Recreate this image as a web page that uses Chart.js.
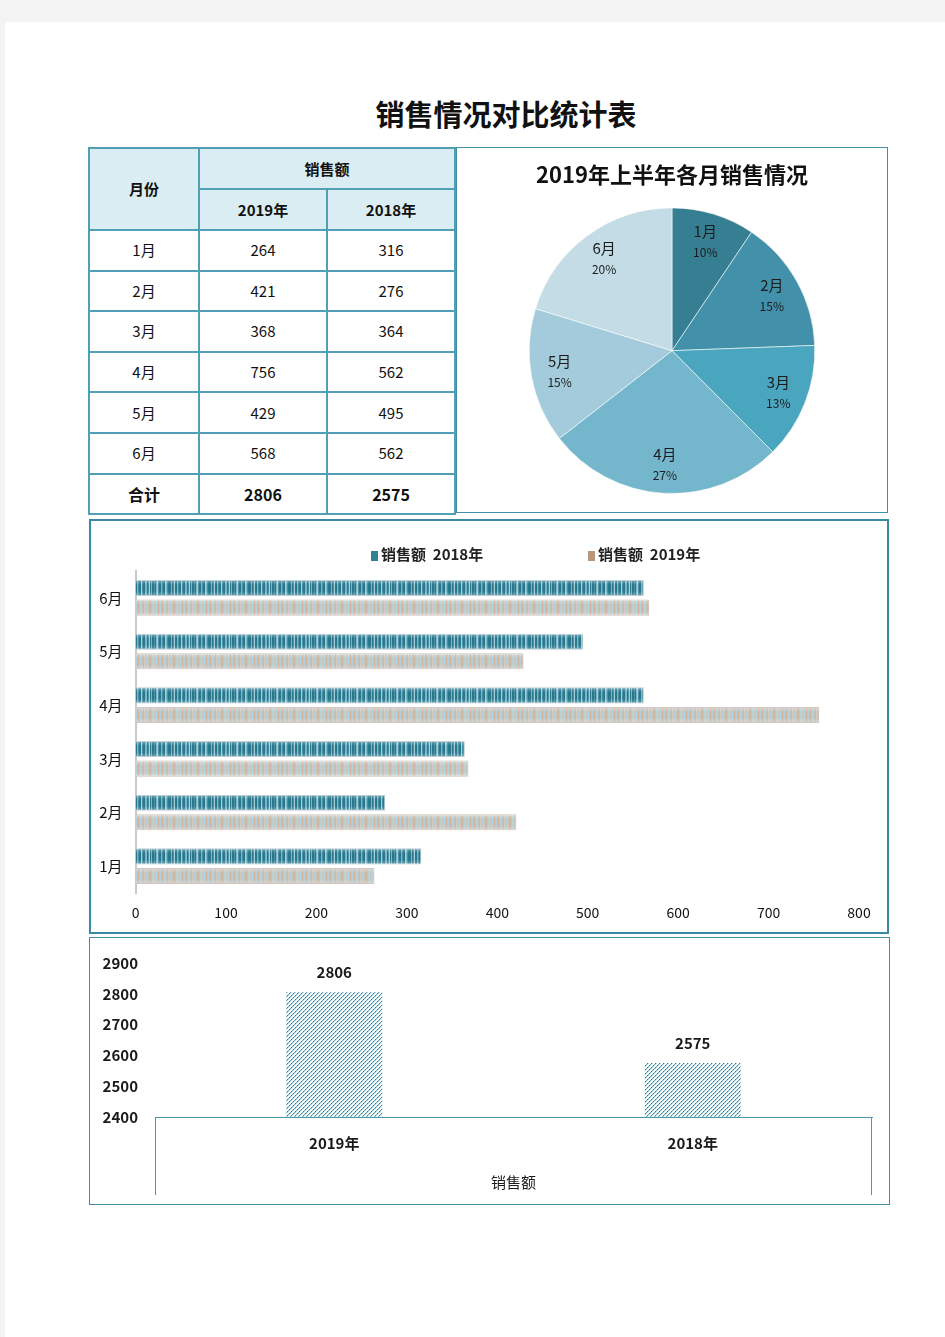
<!DOCTYPE html>
<html><head><meta charset="utf-8">
<script src="https://cdn.jsdelivr.net/npm/chart.js@4.4.1/dist/chart.umd.min.js"></script>
<style>
html,body{margin:0;padding:0;background:#f3f3f3;width:945px;height:1337px;overflow:hidden;font-family:'Noto Sans CJK SC','Noto Sans',sans-serif;color:#111;}
#page{position:absolute;left:5px;top:22px;width:940px;height:1315px;background:#fff;}
#title{position:absolute;left:306px;width:400px;top:93px;text-align:center;font-size:29px;font-weight:700;line-height:40px;color:#111;}
#tbl{position:absolute;left:88px;top:147px;width:366px;border-collapse:collapse;table-layout:fixed;border:2px solid #2f8197;}
#tbl td{border:2px solid #519fb4;text-align:center;vertical-align:middle;font-size:15px;padding:0;height:38.6px;line-height:18px;}
#tbl tr.h td{background:#daedf3;font-weight:700;height:39px;}
#tbl tr.t td{font-weight:700;font-size:16px;}
.box{position:absolute;box-sizing:border-box;border:1px solid #3f8fa6;}
canvas.c{position:absolute;}
.leg{position:absolute;font-size:15px;font-weight:700;line-height:18px;white-space:nowrap;color:#222;}
.sq{display:inline-block;width:7px;height:10px;margin-right:3px;vertical-align:-1px;}
</style></head>
<body>
<div id="page"></div>
<div id="title">销售情况对比统计表</div>
<table id="tbl"><colgroup><col style="width:110px"><col style="width:128px"><col style="width:128px"></colgroup><tbody id="tb"></tbody></table>

<div class="box" style="left:456px;top:147px;width:432px;height:366px;"></div>
<canvas class="c" id="pie" width="432" height="365" style="left:456px;top:147px;"></canvas>

<div class="box" style="left:89px;top:519px;width:800px;height:415px;border:2px solid #3a8aa1;"></div>
<canvas class="c" id="hbar" width="800" height="414" style="left:89px;top:519px;"></canvas>
<div class="leg" style="left:371px;top:545px;"><span class="sq" style="background:#2f7f95"></span>销售额&nbsp;&nbsp;2018年</div>
<div class="leg" style="left:588px;top:545px;"><span class="sq" style="background:#b9957a"></span>销售额&nbsp;&nbsp;2019年</div>

<div class="box" style="left:89px;top:937px;width:801px;height:268px;border:1.5px solid #3f8fa6;"></div>
<canvas class="c" id="tot" width="800" height="267" style="left:89px;top:937px;"></canvas>

<script>
// ---- data ----
const months = ['1月','2月','3月','4月','5月','6月'];
const sales2019 = [264, 421, 368, 756, 429, 568];
const sales2018 = [316, 276, 364, 562, 495, 562];
const totalLabels = ['2019年','2018年'];
const totals = [2806, 2575];
const pieShareLabels = ['10%','15%','13%','27%','15%','20%'];
const seriesNames = ['销售额  2018年','销售额  2019年'];

// ---- table ----
let html = '<tr class="h"><td rowspan="2">月份</td><td colspan="2">销售额</td></tr><tr class="h"><td>' + totalLabels[0] + '</td><td>' + totalLabels[1] + '</td></tr>';
months.forEach((m,i)=>{ html += '<tr><td>'+m+'</td><td>'+sales2019[i]+'</td><td>'+sales2018[i]+'</td></tr>'; });
html += '<tr class="t"><td>合计</td><td>'+totals[0]+'</td><td>'+totals[1]+'</td></tr>';
document.getElementById('tb').innerHTML = html;

Chart.defaults.font.family = "'Noto Sans CJK SC','Noto Sans',sans-serif";

// ---- styles: patterns ----
function stripePattern(cols){
  const c=document.createElement('canvas'); c.width=cols.length; c.height=2;
  const g=c.getContext('2d');
  cols.forEach((col,i)=>{g.fillStyle=col;g.fillRect(i,0,1,2);});
  return g.createPattern(c,'repeat');
}
const D='#27778d',M='#4b91a6',L='#80b4c4',P='#a9ccd7';
const tealPattern = stripePattern([D,D,L,D,M,P,D,D,L,M,D,D,P,M,D,D,L,L,D,M,P,D,L,D,D,M,D,L,P,M,D,D,L,M,D,D,P,L,M,D]);
const T='#d3b6a1',B='#b6d0d8',G='#c6c3bb',W='#d8cbbd';
const tanPattern = stripePattern([T,T,G,B,B,G,T,W,G,B,B,G,T,T,G,B,W,G,B,B,G,T,G,B]);
function hatchPattern(){
  const c=document.createElement('canvas'); c.width=8; c.height=8;
  const g=c.getContext('2d');
  g.fillStyle='#ffffff'; g.fillRect(0,0,8,8);
  for(let y=0;y<8;y++) for(let x=0;x<8;x++){
    const k=(x+y)%4;
    if(k===0){ g.fillStyle = (x%2===0)?'#2a8098':'#6fadc0'; g.fillRect(x,y,1,1); }
    else if(k===1){ g.fillStyle='#b9d9e3'; g.fillRect(x,y,1,1); }
  }
  return g.createPattern(c,'repeat');
}
const hatch = hatchPattern();

// ---- pie ----
const pieColors = ['#367e92','#4290aa','#4aa5bf','#74b7cc','#a3cbdb','#c3dce5'];
const pieLabelPlugin = {
  id:'pieLabels',
  afterDatasetsDraw(chart){
    const ctx=chart.ctx; const meta=chart.getDatasetMeta(0);
    ctx.save(); ctx.fillStyle='#1c1c1c'; ctx.textAlign='center'; ctx.textBaseline='middle';
    meta.data.forEach((arc,i)=>{
      const p=arc.getProps(['x','y','startAngle','endAngle','outerRadius'],true);
      const a=(p.startAngle+p.endAngle)/2, r=p.outerRadius*0.8;
      const x=p.x+Math.cos(a)*r, y=p.y+Math.sin(a)*r;
      ctx.font="15px 'Noto Sans CJK SC'"; ctx.fillText(chart.data.labels[i], x, y-10);
      ctx.font="12px 'Noto Sans CJK SC'"; ctx.fillText(pieShareLabels[i], x, y+11);
    });
    ctx.restore();
  }
};
new Chart(document.getElementById('pie'), {
  type:'pie',
  data:{labels:months, datasets:[{data:sales2019, backgroundColor:pieColors, borderColor:'rgba(255,255,255,0.55)', borderWidth:1}]},
  options:{responsive:false, animation:false, devicePixelRatio:1,
    layout:{padding:{top:0,bottom:18,left:0,right:0}},
    plugins:{legend:{display:false}, tooltip:{enabled:false},
      title:{display:true, text:'2019年上半年各月销售情况', color:'#111', font:{size:22, weight:'bold'}, padding:{top:14,bottom:20}}}
  },
  plugins:[pieLabelPlugin]
});

// ---- horizontal bars ----
const shadePlugin = {
  id:'shade',
  afterDatasetsDraw(chart){
    const ctx=chart.ctx;
    ctx.save();
    chart.data.datasets.forEach((ds,di)=>{
      chart.getDatasetMeta(di).data.forEach(el=>{
        const p=el.getProps(['x','y','base','height'],true);
        const top=p.y-p.height/2, bot=p.y+p.height/2;
        const gr=ctx.createLinearGradient(0,top,0,bot);
        gr.addColorStop(0,'rgba(255,255,255,0.35)');
        gr.addColorStop(0.3,'rgba(255,255,255,0)');
        gr.addColorStop(0.7,'rgba(255,255,255,0)');
        gr.addColorStop(1,'rgba(255,255,255,0.3)');
        ctx.fillStyle=gr; ctx.fillRect(Math.min(p.base,p.x),top,Math.abs(p.x-p.base),p.height);
      });
    });
    ctx.restore();
  }
};
new Chart(document.getElementById('hbar'), {
  type:'bar',
  data:{labels:months, datasets:[
    {label:seriesNames[0], data:sales2018, backgroundColor:tealPattern, borderColor:'#a7bec5', borderWidth:1},
    {label:seriesNames[1], data:sales2019, backgroundColor:tanPattern, borderColor:'#c4b0a2', borderWidth:1}
  ]},
  options:{indexAxis:'y', responsive:false, animation:false, devicePixelRatio:1,
    layout:{padding:{top:52,right:30,bottom:0,left:0}},
    plugins:{legend:{display:false}, tooltip:{enabled:false}},
    datasets:{bar:{categoryPercentage:0.73, barPercentage:0.82}},
    scales:{
      x:{min:0, max:800, ticks:{stepSize:100, padding:11, color:'#111', font:{size:14}},
         grid:{display:false, drawTicks:false}, border:{display:false}, afterFit(s){s.height=40;}},
      y:{reverse:true, ticks:{padding:13, color:'#111', font:{size:15}},
         grid:{display:false, drawTicks:false}, border:{display:true, color:'#c9c9c9', width:2}, afterFit(s){s.width=46.6;}}
    }
  },
  plugins:[shadePlugin]
});

// ---- totals column chart ----
const valueLabelPlugin = {
  id:'valueLabels',
  afterDatasetsDraw(chart){
    const ctx=chart.ctx; ctx.save();
    ctx.fillStyle='#1a1a1a'; ctx.textAlign='center'; ctx.textBaseline='middle';
    ctx.font="bold 15px 'Noto Sans CJK SC'";
    chart.getDatasetMeta(0).data.forEach((el,i)=>{
      const p=el.getProps(['x','y'],true);
      ctx.fillText(String(chart.data.datasets[0].data[i]), p.x, p.y-20);
    });
    ctx.restore();
  }
};
const groupLinePlugin = {
  id:'groupLines',
  afterDraw(chart){
    const ctx=chart.ctx, a=chart.chartArea; ctx.save();
    ctx.strokeStyle='#4c9ab0'; ctx.lineWidth=1;
    ctx.beginPath();
    ctx.moveTo(a.left+0.5,a.bottom); ctx.lineTo(a.left+0.5,a.bottom+78);
    ctx.moveTo(a.right-0.5,a.bottom); ctx.lineTo(a.right-0.5,a.bottom+78);
    ctx.stroke(); ctx.restore();
  }
};
new Chart(document.getElementById('tot'), {
  type:'bar',
  data:{labels:totalLabels, datasets:[{label:'销售额', data:totals, backgroundColor:hatch, borderWidth:0, categoryPercentage:1, barPercentage:0.268}]},
  options:{responsive:false, animation:false, devicePixelRatio:1,
    layout:{padding:{top:22,right:17,left:0,bottom:0}},
    plugins:{legend:{display:false}, tooltip:{enabled:false}},
    scales:{
      y:{min:2400, max:2900, ticks:{stepSize:100, padding:17, color:'#1a1a1a', font:{size:15, weight:'bold'}, callback:(v)=>String(v)},
         grid:{display:false, drawTicks:false}, border:{display:false}, afterFit(s){s.width=66;}},
      x:{ticks:{padding:17, color:'#1a1a1a', font:{size:15, weight:'bold'}},
         grid:{display:false, drawTicks:false}, border:{display:true, color:'#4c9ab0', width:1},
         title:{display:true, text:'销售额', color:'#1a1a1a', font:{size:15}, padding:{top:0,bottom:13}},
         afterFit(s){s.height=87;}}
    }
  },
  plugins:[valueLabelPlugin, groupLinePlugin]
});
</script>
</body></html>
